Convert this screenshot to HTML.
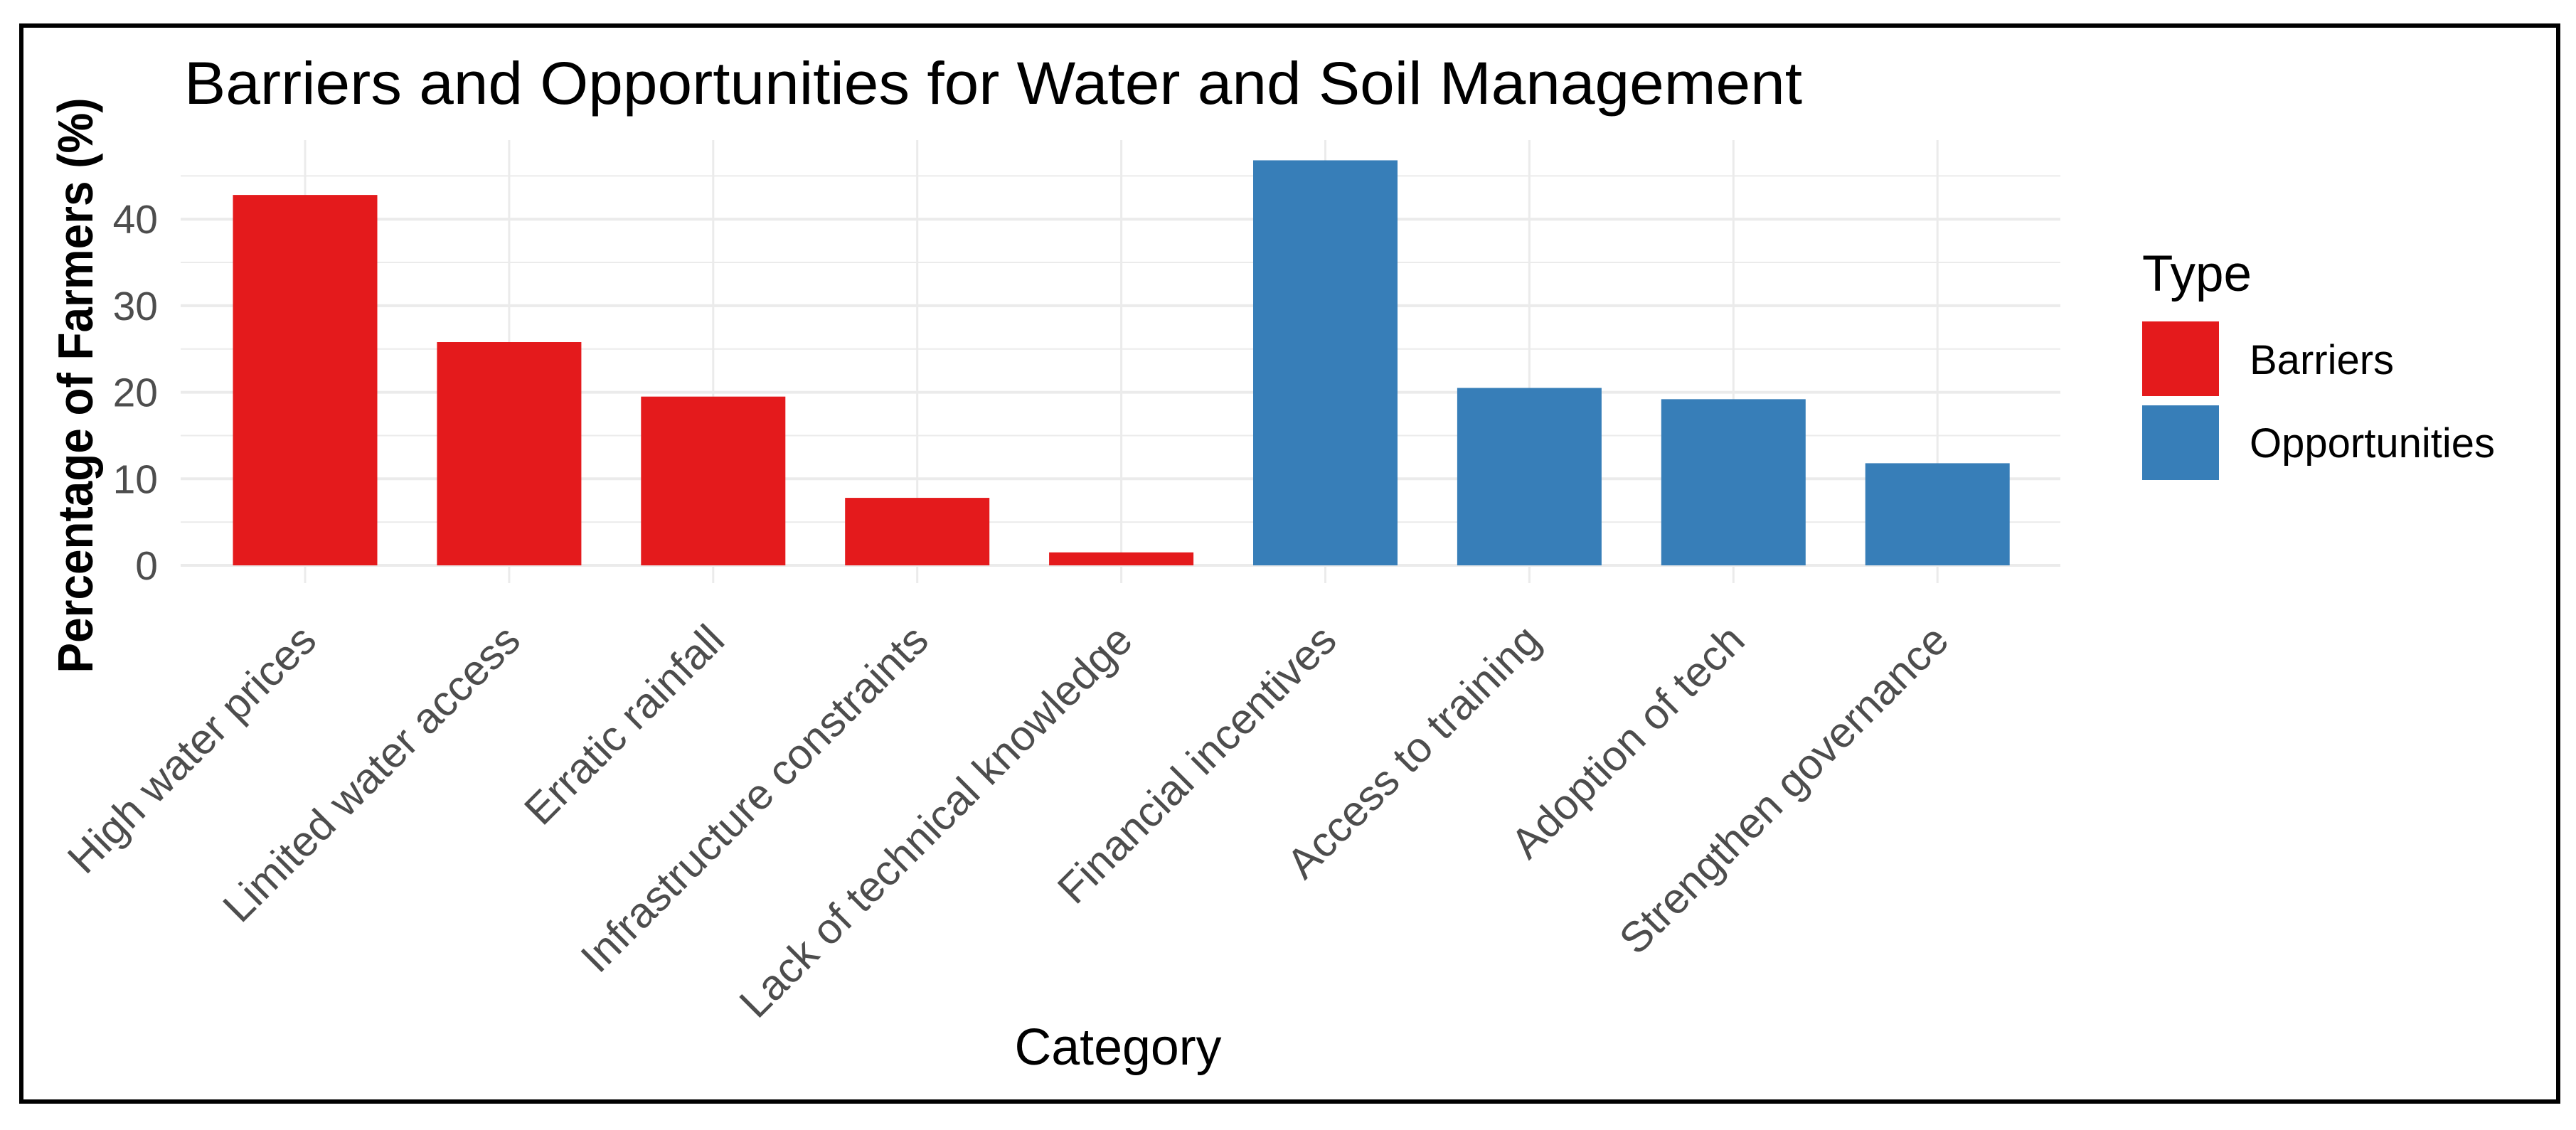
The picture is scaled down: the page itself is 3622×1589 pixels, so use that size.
<!DOCTYPE html>
<html><head><meta charset="utf-8"><style>
html,body{margin:0;padding:0;background:#fff;}
svg{display:block;font-family:"Liberation Sans",Arial,sans-serif;}
</style></head><body>
<svg id="chart" width="3622" height="1589" viewBox="0 0 3622 1589" xmlns="http://www.w3.org/2000/svg">
<rect x="0" y="0" width="3622" height="1589" fill="#fff"/>
<rect x="30" y="36" width="3567" height="1513" fill="none" stroke="#000" stroke-width="6"/>
<text x="259" y="146" font-size="84" fill="#000" textLength="2275" lengthAdjust="spacingAndGlyphs">Barriers and Opportunities for Water and Soil Management</text>
<g id="grid"></g>
<g id="bars"></g>
<g id="yticks"></g>
<g id="xticks"></g>
<text transform="translate(130,542) rotate(-90)" text-anchor="middle" font-size="70" font-weight="bold" fill="#000" textLength="809" lengthAdjust="spacingAndGlyphs">Percentage of Farmers (%)</text>
<text x="1572" y="1497" text-anchor="middle" font-size="72" fill="#000" textLength="291" lengthAdjust="spacingAndGlyphs">Category</text>
<g>
<text x="3012" y="409" font-size="71" fill="#000">Type</text>
<rect x="3012" y="452" width="108" height="105" fill="#E41A1C"/>
<text x="3163" y="526" font-size="58" fill="#000">Barriers</text>
<rect x="3012" y="570" width="108" height="105" fill="#377EB8"/>
<text x="3163" y="643" font-size="58" fill="#000">Opportunities</text>
</g>
</svg>
<script>
const categories = ["High water prices","Limited water access","Erratic rainfall","Infrastructure constraints","Lack of technical knowledge","Financial incentives","Access to training","Adoption of tech","Strengthen governance"];
const types = ["Barriers","Barriers","Barriers","Barriers","Barriers","Opportunities","Opportunities","Opportunities","Opportunities"];
const values = [42.8,25.8,19.5,7.8,1.5,46.8,20.5,19.2,11.8];
const yTicks = [0,10,20,30,40];
const yMinor = [5,15,25,35,45];

const NS="http://www.w3.org/2000/svg";
const plotL=254, plotR=2897, plotT=197, plotB=820;
const y0=795, pxPerUnit=12.17;
const x0=429, step=286.9, barW=203;
function xScale(i){return x0+i*step;}
function yScale(v){return y0-v*pxPerUnit;}
const colors={"Barriers":"#E41A1C","Opportunities":"#377EB8"};
function mk(tag,attrs,parent){const e=document.createElementNS(NS,tag);for(const k in attrs)e.setAttribute(k,attrs[k]);parent.appendChild(e);return e;}
const grid=document.getElementById('grid');
yMinor.forEach(v=>{
  const l=mk('line',{x1:plotL,x2:plotR,y1:yScale(v),y2:yScale(v),stroke:'#ebebeb','stroke-width':2},grid);
  
  
});
yTicks.forEach(v=>{
  const l=mk('line',{x1:plotL,x2:plotR,y1:yScale(v),y2:yScale(v),stroke:'#ebebeb','stroke-width':4},grid);
  
  
});
categories.forEach((c,i)=>{
  const l=mk('line',{x1:xScale(i),x2:xScale(i),y1:plotT,y2:plotB,stroke:'#ebebeb','stroke-width':3},grid);
  
  
});
const bars=document.getElementById('bars');
values.forEach((v,i)=>{
  const r=mk('rect',{x:xScale(i)-barW/2,y:yScale(v),width:barW,height:y0-yScale(v),fill:colors[types[i]]},bars);
  
  
});
const yt=document.getElementById('yticks');
yTicks.forEach(v=>{
  const t=mk('text',{x:222,y:yScale(v)+20,'text-anchor':'end','font-size':57,fill:'#4d4d4d'},yt);
  t.textContent=String(v);
  
  
});
const xt=document.getElementById('xticks');
categories.forEach((c,i)=>{
  const ax=xScale(i)+19, ay=904;
  const t=mk('text',{x:0,y:0,'text-anchor':'end','font-size':60,fill:'#4d4d4d',transform:`translate(${ax},${ay}) rotate(-45)`},xt);
  t.textContent=c;
  
  
});
</script>
</body></html>
